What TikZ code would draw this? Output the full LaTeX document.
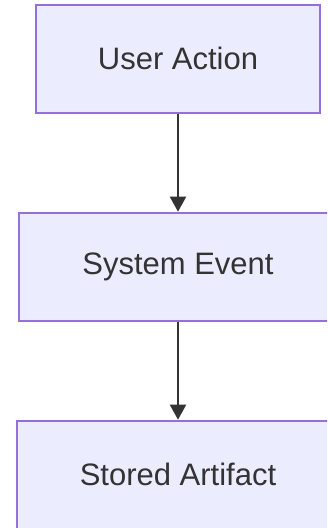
\documentclass[tikz,border=0pt]{standalone}
\usepackage{fontspec}
\setmainfont{Liberation Sans}
\usetikzlibrary{arrows.meta}
\definecolor{nodefill}{HTML}{ECECFF}
\definecolor{nodeline}{HTML}{9370DB}
\definecolor{ink}{HTML}{333333}
\begin{document}
\begin{tikzpicture}[x=1pt,y=-1pt,
  flowbox/.style={draw=nodeline, fill=nodefill, line width=2pt, rectangle, inner sep=0pt,
    text=ink, font=\fontsize{31}{37}\selectfont},
  flowarrow/.style={draw=ink, line width=2pt, -{Triangle[length=15pt,width=16pt]}}]
\useasboundingbox (0,0) rectangle (327,528);
\clip (0,0) rectangle (327,528);
\node[flowbox, minimum width=284pt, minimum height=108pt] (ua) at (178,58.7) {User Action};
\node[flowbox, minimum width=318pt, minimum height=108pt] (se) at (178,266.7) {System Event};
\node[flowbox, minimum width=322pt, minimum height=108pt] (sa) at (178,474.7) {Stored Artifact};
\draw[flowarrow] (ua.south) -- (se.north);
\draw[flowarrow] (se.south) -- (sa.north);
\end{tikzpicture}
\end{document}
